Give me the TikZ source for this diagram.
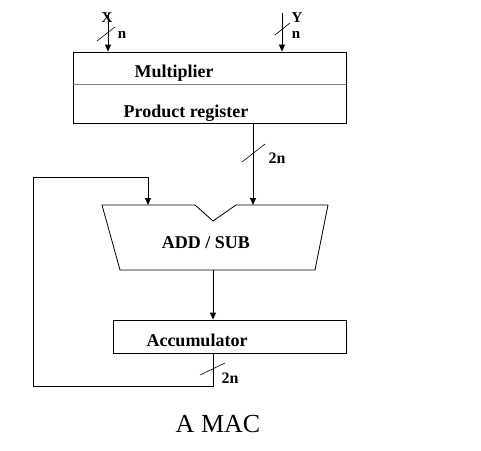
\documentclass[tikz,border=0pt]{standalone}
\usepackage{fontspec}
\setmainfont{Liberation Serif}
\usetikzlibrary{arrows.meta}
\usetikzlibrary{calc}

\begin{document}
\begin{tikzpicture}[x=1pt, y=-1pt, line width=0.8pt,
    box/.style={rectangle, draw, inner sep=0pt},
    lbl/.style={inner sep=0pt, anchor=base, font=\fontsize{18}{20}\selectfont\bfseries},
    tag/.style={inner sep=0pt, font=\fontsize{15}{17}\selectfont\bfseries},
    sig/.style={-{Triangle[length=7pt, width=6pt]}},
    bus/.style={line width=0.6pt}]
        % Fix the page size
        \useasboundingbox (0,0) rectangle (481,450);

        % Draw the multiplier and the product register
        \node[box, minimum width=273pt, minimum height=71pt] (mult) at (209.5,87.5) {};
        \draw[gray] (mult.west |- 0,84) -- (mult.east |- 0,84);
        \node[lbl] (multtxt) at (174,77) {Multiplier};
        \node[lbl] (prodtxt) at (186,117) {Product register};

        % Draw the inputs
        \coordinate (xin) at (108,13);
        \coordinate (yin) at (282,13);
        \draw[sig] (xin) -- (xin |- mult.north);
        \draw[sig] (yin) -- (yin |- mult.north);
        \draw[bus] (97,41) -- (115,27);
        \draw[bus] (275,35) -- (290,23);
        \node[tag] (xlbl) at (107,18) {X};
        \node[tag] (ylbl) at (297,18) {Y};
        \node[tag] (xn) at (122,35) {n};
        \node[tag] (yn) at (296,35) {n};

        % Draw the adder / subtractor
        \coordinate (a1) at (102,205);
        \coordinate (a2) at (195,205);
        \coordinate (a3) at (213,221);
        \coordinate (a4) at (236,205);
        \coordinate (a5) at (328,205);
        \coordinate (a6) at (315,270);
        \coordinate (a7) at (120,270);
        \draw (a1) -- (a2) -- (a3) -- (a4) -- (a5) -- (a6) -- (a7) -- cycle;
        \node[lbl] (addtxt) at (206,248) {ADD / SUB};

        % Product into the adder
        \coordinate (pout) at (253,123);
        \draw[sig] (pout) -- (pout |- a5);
        \draw[bus] (242,162) -- (265,144);
        \node[tag, font=\fontsize{16}{18}\selectfont\bfseries] (pn) at (277,158) {2n};

        % Draw the accumulator
        \node[box, minimum width=233pt, minimum height=33pt] (acc) at (229.5,336.5) {};
        \node[lbl] (acctxt) at (197,346) {Accumulator};
        \draw[sig] (a7 -| a3) -- (acc.north -| a3);

        % Feedback from the accumulator
        \coordinate (fb) at (33,177);
        \coordinate (fbin) at (148,205);
        \draw[sig] (acc.south -| a3) -- (a3 |- 0,386) -| (fb) -| (fbin);
        \draw[bus] (200,375) -- (225,363);
        \node[tag, font=\fontsize{16}{18}\selectfont\bfseries] (an) at (230,378) {2n};

        % Caption
        \node[inner sep=0pt, anchor=base, font=\fontsize{26}{30}\selectfont] (cap) at (218,432) {A MAC};
      \end{tikzpicture}
\end{document}
